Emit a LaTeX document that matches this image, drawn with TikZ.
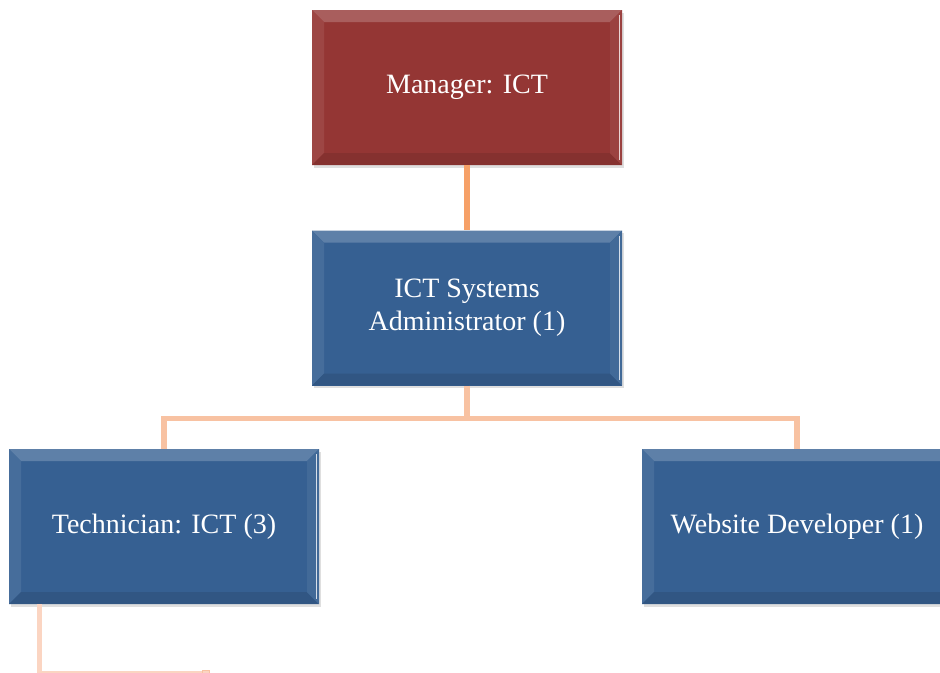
\documentclass[tikz,border=0pt]{standalone}
\usepackage{fontspec}
\setmainfont{Liberation Serif}
\usepackage{tikz}
\usetikzlibrary{positioning,shadows,calc}
\definecolor{mgrred}{HTML}{943634}
\definecolor{staffblue}{HTML}{366092}
\definecolor{linkstrong}{HTML}{F6A067}
\definecolor{linklight}{HTML}{F8C2A2}
\definecolor{linkfaint}{HTML}{FBD5C2}

\begin{document}
\begin{tikzpicture}[
    node distance=48.75pt,
    box/.style={rectangle, minimum width=232.5pt, minimum height=116.25pt, inner sep=0pt,
        fill=#1, text=white, align=center, font=\fontsize{21}{25}\selectfont,
        drop shadow={opacity=0.25, shadow xshift=1.5pt, shadow yshift=-2pt},
        path picture={
            \coordinate (nw) at (path picture bounding box.north west);
            \coordinate (se) at (path picture bounding box.south east);
            \fill[#1!80!white] (nw) -- (nw -| se) -- ([shift={(-9pt,-9pt)}]nw -| se) -- ([shift={(9pt,-9pt)}]nw) -- cycle;
            \fill[#1!92!white] (nw) -- ([shift={(9pt,-9pt)}]nw) -- ([shift={(9pt,9pt)}]nw |- se) -- (nw |- se) -- cycle;
            \fill[#1!90!black] (nw |- se) -- (se) -- ([shift={(-9pt,9pt)}]se) -- ([shift={(9pt,9pt)}]nw |- se) -- cycle;
            \fill[#1!94!white] (se) -- (nw -| se) -- ([shift={(-9pt,-9pt)}]nw -| se) -- ([shift={(-9pt,9pt)}]se) -- cycle;
            \draw[white!80!#1, line width=1pt] ([shift={(-2pt,-4pt)}]nw -| se) -- ([shift={(-2pt,4pt)}]se);
        }},
    link/.style={line width=4pt}
]
\useasboundingbox (0,0) rectangle (705pt,-504pt);

\node[box=mgrred] (manager) at (350.25pt,-65.625pt) {Manager: ICT};
\node[box=staffblue, below=of manager] (admin) {ICT Systems\\Administrator (1)};
\node[box=staffblue, below=47.25pt of admin, xshift=-227.25pt] (tech) {Technician: ICT (3)};
\node[box=staffblue, below=47.25pt of admin, xshift=247.5pt] (webdev) {Website Developer (1)};

\coordinate (techfoot) at ([xshift=23.25pt]tech.south west);
\node[rectangle, minimum size=5pt, inner sep=0pt, draw=linklight, fill=linkfaint, below right=49pt and 122pt of techfoot] (next) {};

\draw[link, linkstrong] (manager) -- (admin);
\draw[link, linklight] (admin.south) -- ++(0,-24.75pt) -| (tech.north);
\draw[link, linklight] (admin.south) -- ++(0,-24.75pt) -| (webdev.north);
\draw[link, linkfaint] (techfoot) |- (next);
\end{tikzpicture}
\end{document}
